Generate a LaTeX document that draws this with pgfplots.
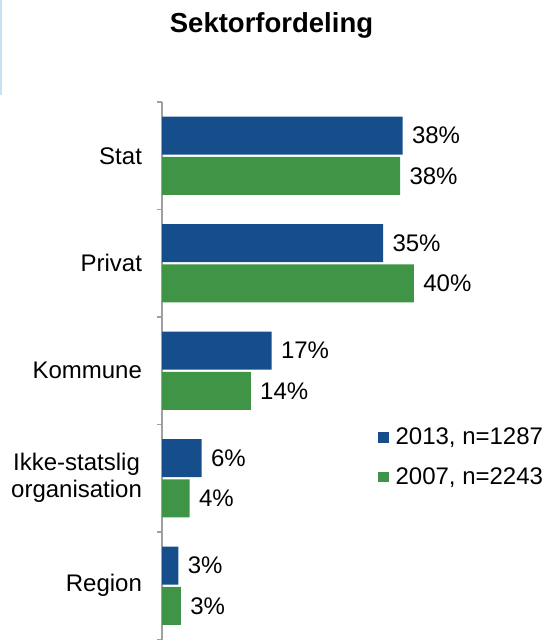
\documentclass[border=0pt]{standalone}
\usepackage{fontspec}
\setmainfont{Liberation Sans}
\usepackage{pgfplots}
\pgfplotsset{compat=1.18}
\definecolor{bar13}{RGB}{21,78,138}
\definecolor{bar07}{RGB}{64,148,70}
\definecolor{axgray}{RGB}{160,160,160}
\newcommand{\lbl}{\fontsize{12}{13.5}\selectfont}
\begin{document}
\begin{tikzpicture}
\begin{axis}[scale only axis,width=189pt,height=268.75pt,
  xmin=0,xmax=60,ymin=-0.5,ymax=4.5,
  axis x line=none,axis y line*=left,
  y axis line style={axgray,line width=0.75pt},
  ytick={0,1,2,3,4},
  yticklabels={Region,{Ikke-statslig\\organisation},Kommune,Privat,Stat},
  yticklabel style={align=center,font=\lbl,xshift=-6.5pt},
  major tick length=0pt,
  minor ytick={-0.5,0.5,1.5,2.5,3.5,4.5},
  minor tick length=2.5pt,tick align=outside,
  minor tick style={axgray,line width=0.75pt},
  xbar,bar width=19pt,
  point meta=explicit symbolic,
  nodes near coords,
  nodes near coords style={font=\lbl,anchor=west,inner sep=4.5pt},
  legend style={at={(axis cs:33.3,1.55)},anchor=north west,draw=none,fill=none,
    font=\lbl,row sep=6pt,
    /tikz/every odd column/.append style={column sep=1.5pt}},
  legend image code/.code={\fill[#1] (0pt,-2.6pt) rectangle (5.2pt,2.6pt);},
  clip=false]
\coordinate (O) at (rel axis cs:0,0);
\addplot[fill=bar13,draw=none,bar shift=10.1pt] coordinates {
  (38.2,4) [38\%]
  (35.1,3) [35\%]
  (17.4,2) [17\%]
  (6.3,1)  [6\%]
  (2.6,0)  [3\%]
};
\addlegendentry{2013, n=1287}
\addplot[fill=bar07,draw=none,bar shift=-10.1pt] coordinates {
  (37.8,4) [38\%]
  (40.0,3) [40\%]
  (14.1,2) [14\%]
  (4.4,1)  [4\%]
  (3.0,0)  [3\%]
};
\addlegendentry{2007, n=2243}
\node[font=\bfseries\fontsize{13.75}{16}\selectfont,anchor=base]
  at ([yshift=34.5pt]rel axis cs:0.2897,1) {Sektorfordeling};
\draw[color={rgb,255:red,200;green,225;blue,242},line width=1pt]
  ([xshift=-80.5pt,yshift=3.5pt]rel axis cs:0,1) -- ++(0,47.5pt);
\end{axis}
\pgfresetboundingbox
\path ([xshift=-81pt,yshift=-0.75pt]O) rectangle ++(272pt,320.5pt);
\end{tikzpicture}
\end{document}
